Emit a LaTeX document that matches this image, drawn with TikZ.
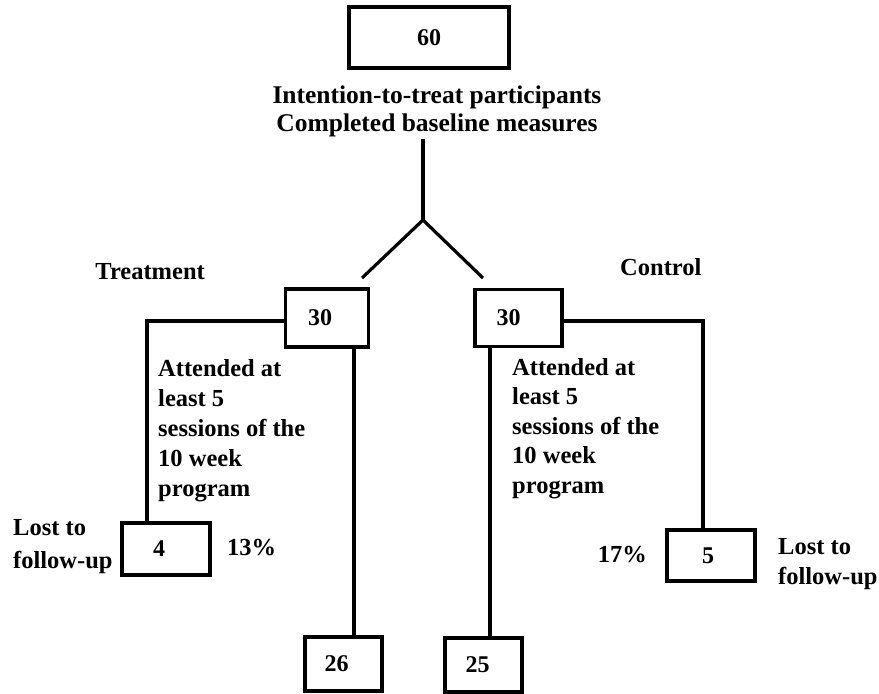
\documentclass[tikz,border=0pt]{standalone}
\usepackage{fontspec}
\setmainfont{Liberation Serif}
\begin{document}
\begin{tikzpicture}[x=1pt,y=-1pt,
  box/.style={draw=black,line width=3.2pt,inner sep=0pt,font=\bfseries\fontsize{24}{28}\selectfont},
  lbl/.style={inner sep=0pt,font=\bfseries\fontsize{24.5}{30}\selectfont},
  conn/.style={draw=black,line width=3.2pt}]
\useasboundingbox (0,0) rectangle (879,694);
% boxes
\node[box,minimum width=160pt,minimum height=61pt] (b60) at (429,37.5) {60};
\node[box,minimum width=83pt,minimum height=58pt] (t30) at (327,318) {\hspace*{-14pt}30};
\node[box,minimum width=87pt,minimum height=57pt] (c30) at (518.5,318) {\hspace*{-20pt}30};
\node[box,minimum width=88pt,minimum height=52pt] (b4) at (166,549) {\hspace*{-14pt}4};
\node[box,minimum width=77pt,minimum height=54pt] (b26) at (343.5,664) {\hspace*{-14pt}26};
\node[box,minimum width=88pt,minimum height=51pt] (b5) at (711,555.5) {\hspace*{-6pt}5};
\node[box,minimum width=77pt,minimum height=54pt] (b25) at (483.5,665) {\hspace*{-12pt}25};
% texts
\node[lbl,align=center,font=\bfseries\fontsize{25.5}{28}\selectfont] (itt) at (437,111) {Intention-to-treat participants\\Completed baseline measures};
\node[lbl,anchor=east] (treat) at (205,272) {Treatment};
\node[lbl,anchor=west] (ctrl) at (620,267) {Control};
\node[lbl,anchor=north west,align=left] (tatt) at (158,359) {Attended at\\least 5\\sessions of the\\10 week\\program};
\node[lbl,anchor=north west,align=left,font=\bfseries\fontsize{24.5}{29.5}\selectfont] (catt) at (512,358) {Attended at\\least 5\\sessions of the\\10 week\\program};
\node[lbl,anchor=north west,align=left,font=\bfseries\fontsize{24.5}{33}\selectfont] (tlost) at (13,519) {Lost to\\follow-up};
\node[lbl,anchor=north west,align=left] (clost) at (778,538) {Lost to\\follow-up};
\node[lbl,anchor=west] (p13) at (227,548) {13\%};
\node[lbl,anchor=east] (p17) at (647,555) {17\%};
% connectors
\coordinate (split) at (423,220);
\coordinate (lend) at (362,278);
\coordinate (rend) at (483,278);
\draw[conn] (split |- itt.south) ++(0,2) -- (split);
\draw[conn] (lend) -- (split) -- (rend);
\draw[conn] ([yshift=-3pt]t30.west) -| ([xshift=-19pt]b4.north);
\draw[conn] ([xshift=27pt]t30.south) -- ([xshift=27pt]t30.south |- b26.north);
\draw[conn] ([yshift=-3pt]c30.east) -| ([xshift=-8pt]b5.north);
\draw[conn] ([xshift=-28.5pt]c30.south) -- ([xshift=-28.5pt]c30.south |- b25.north);
\end{tikzpicture}
\end{document}
